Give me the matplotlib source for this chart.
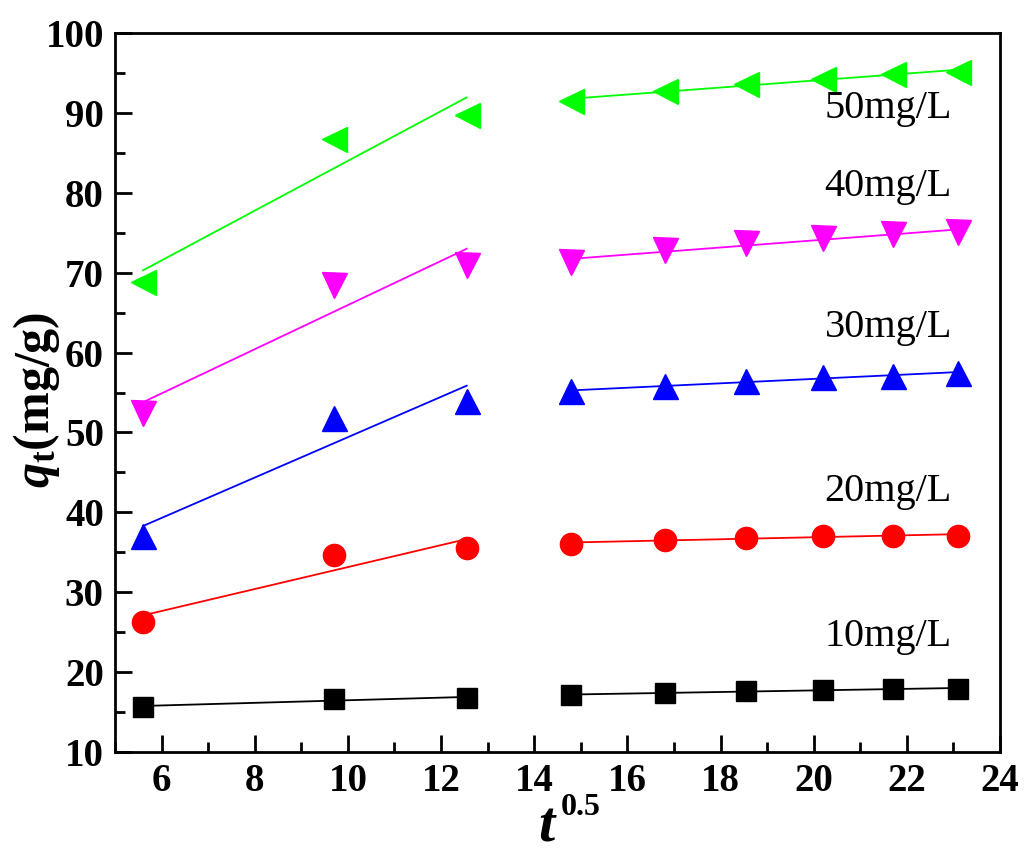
import numpy as np
import matplotlib
matplotlib.use("Agg")
from matplotlib import pyplot as plt
from matplotlib.ticker import MultipleLocator

plt.rcParams['font.family'] = ['Liberation Serif', 'DejaVu Serif']
plt.rcParams['mathtext.fontset'] = 'custom'
plt.rcParams['mathtext.rm'] = 'Liberation Serif:bold'
plt.rcParams['mathtext.it'] = 'Liberation Serif:italic:bold'
plt.rcParams['mathtext.bf'] = 'Liberation Serif:bold'

# t^0.5 values, first stage (3 points) and second stage (6 points)
x1 = [5.6, 9.7, 12.55]
x2 = [14.8, 16.8, 18.55, 20.2, 21.7, 23.1]

# q_t (mg/g) for each initial concentration
q10_1 = [15.7, 16.6, 16.8]
q10_2 = [17.1, 17.4, 17.7, 17.8, 17.9, 17.9]
q20_1 = [26.3, 34.7, 35.5]
q20_2 = [36.1, 36.5, 36.8, 37.1, 37.1, 37.1]
q30_1 = [37.0, 51.8, 54.0]
q30_2 = [55.2, 55.8, 56.4, 56.9, 57.1, 57.5]
q40_1 = [52.4, 68.5, 71.0]
q40_2 = [71.3, 72.9, 73.7, 74.3, 74.8, 75.1]
q50_1 = [68.8, 86.7, 89.8]
q50_2 = [91.5, 92.8, 93.6, 94.3, 94.9, 95.1]

labels = ['10mg/L', '20mg/L', '30mg/L', '40mg/L', '50mg/L']
label_y = [24.4, 42.6, 63.1, 80.8, 90.5]

series = [(q10_1, q10_2, 'black', 's', 14),
          (q20_1, q20_2, '#FF0000', 'o', 16),
          (q30_1, q30_2, '#0000FF', '^', 18),
          (q40_1, q40_2, '#FF00FF', 'v', 18),
          (q50_1, q50_2, '#00FF00', '<', 18)]

fig = plt.figure(figsize=(10.24, 8.58), dpi=100)
ax = fig.add_axes([0.1123, 0.1235, 0.8643, 0.838])

for q1, q2, c, m, ms in series:
    for xx, qq in [(x1, q1), (x2, q2)]:
        xx = np.array(xx)
        k, b = np.polyfit(xx, qq, 1)
        ax.plot(xx, k * xx + b, color=c, lw=1.3, zorder=2)
        ax.plot(xx, qq, ls='none', marker=m, ms=ms, color=c, mec=c, zorder=3)

for lab, ly in zip(labels, label_y):
    ax.text(21.6, ly, lab, fontsize=29, ha='center', va='center')

ax.set_xlim(5, 24)
ax.set_ylim(10, 100)
ax.xaxis.set_major_locator(MultipleLocator(2))
ax.xaxis.set_minor_locator(MultipleLocator(1))
ax.yaxis.set_major_locator(MultipleLocator(10))
ax.yaxis.set_minor_locator(MultipleLocator(5))
ax.tick_params(which='both', direction='in', width=2, top=False, right=False)
ax.tick_params(which='major', length=12, labelsize=28, pad=8)
ax.tick_params(which='minor', length=7)
for lab in ax.get_xticklabels() + ax.get_yticklabels():
    lab.set_fontweight('bold')
for sp in ax.spines.values():
    sp.set_linewidth(2)

# x label drawn as t with a raised 0.5, placed like the original
fig.text(0.534, 0.019, 't', fontsize=42, fontweight='bold', fontstyle='italic',
         ha='center', va='baseline')
fig.text(0.567, 0.050, '0.5', fontsize=23, fontweight='bold',
         ha='center', va='baseline')
ax.set_ylabel(r'$q_{\mathrm{t}}$(mg/g)', fontsize=36, fontweight='bold')
ax.yaxis.set_label_coords(-0.06, 0.49)

fig.savefig('out.png', dpi=100)
